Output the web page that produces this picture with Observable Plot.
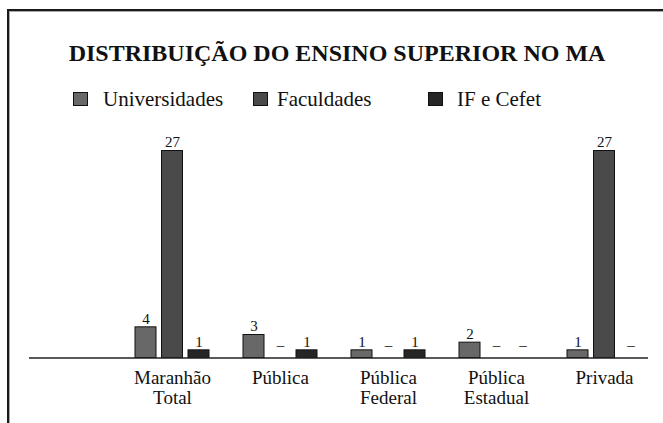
<!DOCTYPE html>
<html>
<head>
<meta charset="utf-8">
<script src="https://cdn.jsdelivr.net/npm/d3@7"></script>
<script src="https://cdn.jsdelivr.net/npm/@observablehq/plot@0.6"></script>
<style>
  html, body { margin: 0; padding: 0; background: #fff; }
  #wrap { position: relative; width: 663px; height: 423px; overflow: hidden; background: #fff; color: #111; }
  #frame { position: absolute; left: 7px; top: 9px; width: 720px; height: 480px; border-top: 2px solid #1a1a1a; border-left: 2px solid #1a1a1a; box-shadow: inset 1px 1px 0 #aaa; }
  #title { position: absolute; left: 0; width: 674px; top: 41px; text-align: center; font-weight: bold; font-size: 24px; line-height: 24px; white-space: nowrap; }
  .sw { position: absolute; top: 92px; width: 13px; height: 12px; border: 1px solid #111; }
  .lt { position: absolute; top: 89px; font-size: 21px; line-height: 21px; white-space: nowrap; }
  #chart { position: absolute; left: 0; top: 120px; }
</style>
</head>
<body>
<div id="wrap">
  <div id="frame"></div>
  <div id="title">DISTRIBUIÇÃO DO ENSINO SUPERIOR NO MA</div>
  <div id="legend"></div>
  <div id="chart"></div>
</div>
<script>
// Data
const categorias = ["Maranhão\nTotal", "Pública", "Pública\nFederal", "Pública\nEstadual", "Privada"];
const series = ["Universidades", "Faculdades", "IF e Cefet"];
const universidades = [4, 3, 1, 2, 1];
const faculdades = [27, 0, 0, 0, 27];
const ifCefet = [1, 1, 1, 0, 0];

const valoresPorSerie = [universidades, faculdades, ifCefet];
const cores = ["#686868", "#4a4a4a", "#262626"];
const offsets = [-26.5, 0, 26.5];
const fonte = "'Liberation Serif'";

document.getElementById("wrap").style.fontFamily = fonte;
document.getElementById("title").style.fontFamily = fonte;

// Legend
const legendPos = [[73, 103], [253, 277], [428, 457]];
const legend = document.getElementById("legend");
series.forEach((s, k) => {
  const sw = document.createElement("div");
  sw.className = "sw";
  sw.style.left = legendPos[k][0] + "px";
  sw.style.background = cores[k];
  legend.appendChild(sw);
  const t = document.createElement("div");
  t.className = "lt";
  t.style.left = legendPos[k][1] + "px";
  t.style.fontFamily = fonte;
  t.textContent = s;
  legend.appendChild(t);
});

const marks = [];
series.forEach((s, k) => {
  const dados = categorias.map((c, i) => ({categoria: c, serie: s, valor: valoresPorSerie[k][i]}));
  const pos = dados.filter(d => d.valor > 0);
  const zero = dados.filter(d => d.valor === 0);
  marks.push(Plot.barY(pos, {x: "categoria", y: "valor", fill: cores[k], stroke: "#111", strokeWidth: 1, insetLeft: 43.5, insetRight: 43.5, dx: offsets[k]}));
  marks.push(Plot.text(pos, {x: "categoria", y: "valor", text: d => String(d.valor), dx: offsets[k], dy: -8.5, fontSize: 15, fill: "#111"}));
  marks.push(Plot.text(zero, {x: "categoria", y: "valor", text: () => "–", dx: offsets[k], dy: -13, fontSize: 15, fill: "#111"}));
});
marks.push(Plot.ruleY([0], {stroke: "#222", strokeWidth: 1.6, insetLeft: -89.4, insetRight: 10.4}));
marks.push(Plot.axisX({tickSize: 0, tickPadding: 12, fontSize: 19, lineHeight: 1.05, label: null, fill: "#111"}));

const chart = Plot.plot({
  width: 663,
  height: 303,
  marginLeft: 118.4,
  marginRight: 4.6,
  marginTop: 30.5,
  marginBottom: 65.5,
  style: {fontFamily: fonte, background: "transparent", color: "#111", overflow: "visible"},
  x: {type: "band", domain: categorias, padding: 0},
  y: {domain: [0, 27], axis: null},
  marks
});
chart.querySelectorAll("text, g").forEach(t => t.style.fontFamily = fonte);
document.getElementById("chart").appendChild(chart);
</script>
</body>
</html>
